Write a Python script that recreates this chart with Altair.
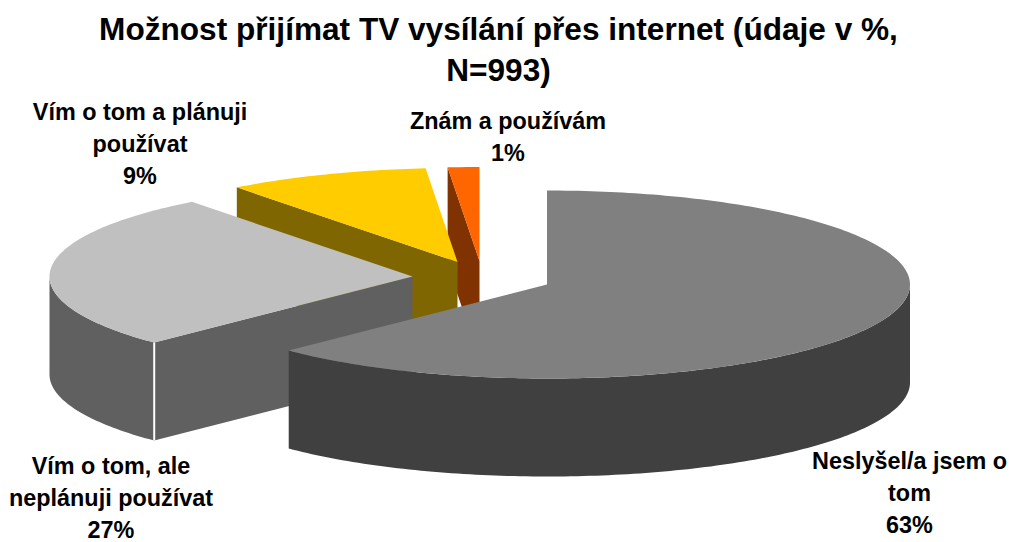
import math
import altair as alt

# ---- data ----
categories = ["Neslyšel/a jsem o tom", "Vím o tom, ale neplánuji používat",
              "Vím o tom a plánuji používat", "Znám a používám"]
# slice shares as drawn (the printed labels round these to 63, 27, 9, 1)
values = [62.6, 27.0, 9.0, 1.4]
top_colors = ["#808080", "#c0c0c0", "#ffcc00", "#ff6600"]
side_colors = ["#404040", "#606060", "#806600", "#803300"]

title_lines = ["Možnost přijímat TV vysílání přes internet (údaje v %,", "N=993)"]
label_lines = [
    ["Neslyšel/a jsem o", "tom", "63%"],
    ["Vím o tom, ale", "neplánuji používat", "27%"],
    ["Vím o tom a plánuji", "používat", "9%"],
    ["Znám a používám", "1%"],
]

# ---- layout (page pixels) ----
PAD_X, PAD_Y = 8, 8
TOP = 90
RX, RY, DEPTH = 363.0, 94.0, 98.0
apex = [(547, 284.5), (412.5, 276.5), (457.5, 262), (479.5, 261)]
label_xy = [(909.5, 462), (111, 467), (140, 113), (508, 122)]
LINE = 32.0


def page(x, y):
    return [x - PAD_X, y - PAD_Y - TOP]


def arc_pts(cx, cy, a0, a1, dy=0.0):
    n = max(2, int(abs(a1 - a0) / 1.0))
    pts = []
    for i in range(n + 1):
        a = math.radians(a0 + (a1 - a0) * i / n)
        pts.append((cx + RX * math.sin(a), cy - RY * math.cos(a) + dy))
    return pts


def poly(pts, fill):
    ring = [page(x, y) for x, y in pts]
    ring.append(ring[0])
    return {"type": "Feature", "properties": {"fill": fill},
            "geometry": {"type": "Polygon", "coordinates": [ring]}}


total = sum(values)
angles = [0.0]
for v in values:
    angles.append(angles[-1] + 360.0 * v / total)

top_faces, walls = {}, {}
for i in range(len(values)):
    cx, cy = apex[i]
    a0, a1 = angles[i], angles[i + 1]
    top_faces[i] = poly([(cx, cy)] + arc_pts(cx, cy, a0, a1), top_colors[i])
    w = []
    # outer curved wall on the near half (90..270 degrees)
    lo, hi = max(a0, 90.0), min(a1, 270.0)
    if hi > lo:
        upper = arc_pts(cx, cy, lo, hi)
        lower = arc_pts(cx, cy, hi, lo, DEPTH)
        w.append(poly(upper + lower, side_colors[i]))
    # flat cut face at the start of the slice (faces the viewer for the left half)
    if a0 > 180.0:
        ex, ey = arc_pts(cx, cy, a0, a0 + 2)[0]
        w.append(poly([(cx, cy), (ex, ey), (ex, ey + DEPTH), (cx, cy + DEPTH)], side_colors[i]))
    walls[i] = w

# back-to-front painting order
features = []
for i in [3, 2, 1, 0]:
    features += walls[i]
    features.append(top_faces[i])
    if i == 1:
        ex, ey = arc_pts(*apex[1], angles[1], angles[1] + 2)[0]
        a, b = page(ex, ey), page(ex, ey + DEPTH)
        features.append({"type": "Feature", "properties": {"fill": "#ffffff"},
                         "geometry": {"type": "Polygon", "coordinates": [[
                             [a[0] - 1, a[1]], [a[0] + 1, a[1]], [b[0] + 1, b[1]], [b[0] - 1, b[1]], [a[0] - 1, a[1]]]]}})
for i, f in enumerate(features):
    f["properties"]["o"] = i

pie = alt.Chart(alt.Data(values=features)).mark_geoshape(stroke=None, strokeWidth=0).encode(
    fill=alt.Fill("properties.fill:N", scale=None),
    order=alt.Order("properties.o:Q"),
).project(type="identity", scale=1, translate=[0, 0])

rows = []
for (lx, ly), lines in zip(label_xy, label_lines):
    for j, t in enumerate(lines):
        rows.append({"t": t, "px": lx - PAD_X, "py": ly + j * LINE - PAD_Y - TOP})

labels = alt.Chart(alt.Data(values=rows)).mark_text(
    font="Liberation Sans", fontWeight="bold", fontSize=23.4, color="#000000",
    align="center", baseline="middle",
).encode(
    x=alt.X("px:Q", scale=None),
    y=alt.Y("py:Q", scale=None),
    text="t:N",
)

chart = alt.layer(pie, labels).properties(
    width=1001,
    height=534 - TOP,
    padding={"left": 0, "top": TOP, "right": 0, "bottom": 0},
    autosize=alt.AutoSizeParams(type="none"),
    title=alt.TitleParams(
        text=title_lines, font="Liberation Sans", fontWeight="bold", fontSize=31.6,
        lineHeight=41, anchor="middle", dx=-10, offset=10, color="#000000",
    ),
).configure_view(stroke=None)

chart.save("out.html", embed_options={"renderer": "svg", "actions": False})
